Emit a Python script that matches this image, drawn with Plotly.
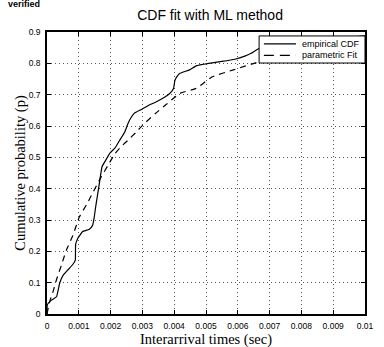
import plotly.graph_objects as go

# Empirical CDF
emp_x = [0.0, 0.00001, 0.00015, 0.0003, 0.0004, 0.00051, 0.00065, 0.00081, 0.00089, 0.0009,
         0.00097, 0.00112, 0.00132, 0.00143, 0.00148, 0.00153, 0.00163, 0.00173, 0.00183,
         0.00199, 0.00214, 0.00229, 0.00245, 0.00255, 0.00265, 0.00275, 0.00295, 0.00316,
         0.00341, 0.00367, 0.00385, 0.00398, 0.00402, 0.00408, 0.00418, 0.00448, 0.00469,
         0.00509, 0.0055, 0.00591, 0.00622, 0.00642, 0.00668, 0.0072, 0.008, 0.009, 0.01]
emp_p = [0.0, 0.03, 0.045, 0.055, 0.099, 0.124, 0.14, 0.158, 0.172, 0.222,
         0.242, 0.263, 0.27, 0.282, 0.305, 0.342, 0.406, 0.47, 0.488,
         0.515, 0.53, 0.555, 0.582, 0.609, 0.628, 0.641, 0.652, 0.664,
         0.676, 0.69, 0.703, 0.72, 0.745, 0.757, 0.768, 0.779, 0.792,
         0.8, 0.806, 0.813, 0.823, 0.832, 0.848, 0.858, 0.868, 0.878, 0.888]

# Parametric fit
fit_x = [0.0, 0.00005, 0.0001, 0.00015, 0.0003, 0.00045, 0.00061, 0.00081, 0.00102,
         0.00125, 0.00143, 0.00168, 0.00192, 0.00214, 0.00235, 0.00255, 0.00280, 0.00301,
         0.00341, 0.00367, 0.00418, 0.00469, 0.0052, 0.00586, 0.00668, 0.0075, 0.0085, 0.01]
fit_p = [0.0, 0.025, 0.045, 0.058, 0.11, 0.155, 0.204, 0.25, 0.31,
         0.35, 0.385, 0.433, 0.475, 0.512, 0.536, 0.555, 0.58, 0.603,
         0.64, 0.662, 0.704, 0.72, 0.757, 0.779, 0.805, 0.825, 0.848, 0.875]

series_names = ["empirical CDF", "parametric Fit"]
series_dash = ["solid", "10px,6px"]

x_ticks = [0, 0.001, 0.002, 0.003, 0.004, 0.005, 0.006, 0.007, 0.008, 0.009, 0.01]
x_labels = ["0", "0.001", "0.002", "0.003", "0.004", "0.005", "0.006", "0.007", "0.008", "0.009", "0.01"]
y_ticks = [0, 0.1, 0.2, 0.3, 0.4, 0.5, 0.6, 0.7, 0.8, 0.9]
y_labels = ["0", "0.1", "0.2", "0.3", "0.4", "0.5", "0.6", "0.7", "0.8", "0.9"]

fig = go.Figure()
fig.add_trace(go.Scatter(x=emp_x, y=emp_p, mode="lines", name=series_names[0], showlegend=False,
                         line=dict(color="black", width=1.2, shape="spline", smoothing=0.3)))
fig.add_trace(go.Scatter(x=fit_x, y=fit_p, mode="lines", name=series_names[1], showlegend=False,
                         line=dict(color="black", width=1.2, dash="6px,5px", shape="spline", smoothing=0.5)))

axis_common = dict(showline=True, linecolor="black", linewidth=1.5, mirror="ticks",
                   ticks="inside", ticklen=4, tickcolor="black", ticklabelstandoff=3,
                   showgrid=True, gridcolor="#555555", griddash="1px,3px", gridwidth=1,
                   zeroline=False, tickfont=dict(family="Liberation Sans, Arial", size=8.5, color="black"))

fig.update_xaxes(range=[0, 0.01], tickvals=x_ticks, ticktext=x_labels, **axis_common)
fig.update_yaxes(range=[0, 0.9], tickvals=y_ticks, ticktext=y_labels,
                 title=dict(text="Cumulative probability (p)", standoff=0,
                            font=dict(family="Liberation Serif, Times New Roman", size=14.5, color="black")),
                 **axis_common)

fig.update_layout(
    width=384, height=347,
    margin=dict(l=47, r=10, t=32, b=33),
    paper_bgcolor="white", plot_bgcolor="white",
    title=dict(text="CDF fit with ML method", x=0.547, xanchor="center", y=0.957, yanchor="middle",
               font=dict(family="Liberation Sans, Arial", size=14, color="black")),
    showlegend=False,
)

# X axis title placed as annotation below tick labels
fig.add_annotation(text="Interarrival times (sec)", xref="paper", yref="paper", x=0.5, y=-0.092,
                   xanchor="center", yanchor="middle", showarrow=False,
                   font=dict(family="Liberation Serif, Times New Roman", size=14.5, color="black"))

# Manual compact legend (MATLAB style box)
fig.add_shape(type="rect", xref="paper", yref="paper", x0=0.667, x1=1.0, y0=0.890, y1=0.986,
              line=dict(color="black", width=1), fillcolor="white", layer="above")
legend_y = [0.958, 0.917]
for name, dash, ly in zip(series_names, series_dash, legend_y):
    fig.add_shape(type="line", xref="paper", yref="paper", x0=0.682, x1=0.783, y0=ly, y1=ly,
                  line=dict(color="black", width=1.2, dash=dash), layer="above")
    fig.add_annotation(text=name, xref="paper", yref="paper", x=0.795, y=ly, xanchor="left",
                       yanchor="middle", showarrow=False,
                       font=dict(family="Liberation Sans, Arial", size=9, color="black"))

fig.add_annotation(text="<b>verified</b>", xref="paper", yref="paper", x=-0.13, y=1.075,
                   xanchor="left", yanchor="bottom", showarrow=False,
                   font=dict(family="Liberation Sans, Arial", size=9, color="black"))

fig.write_html("out.html", config={"displayModeBar": False},
               post_script="document.body.style.margin='0';")
